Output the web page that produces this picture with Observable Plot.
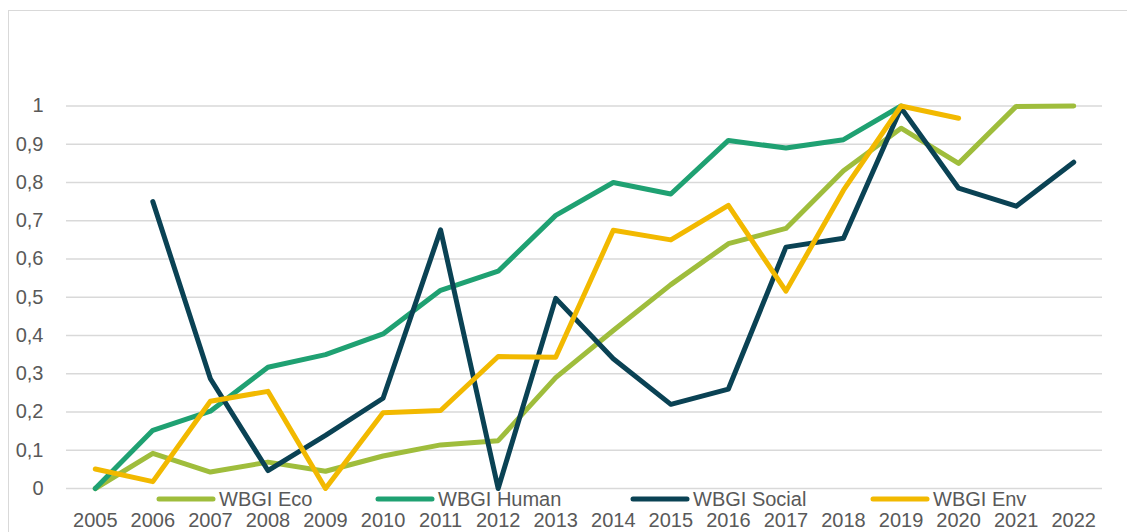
<!DOCTYPE html>
<html><head><meta charset="utf-8">
<script src="https://cdn.jsdelivr.net/npm/d3@7"></script>
<script src="https://cdn.jsdelivr.net/npm/@observablehq/plot@0.6"></script>
<style>
body{margin:0;background:#fff;overflow:hidden;font-family:"Liberation Sans",Arial,sans-serif;}
#wrap{position:relative;width:1127px;height:532px;overflow:hidden;}
#chart{position:absolute;left:0;top:0;}
#frame{position:absolute;left:8px;top:10px;width:1300px;height:700px;border:1.5px solid #d9d9d9;box-sizing:border-box;pointer-events:none;}
#legend{position:absolute;left:0;top:488px;width:1127px;height:22px;font-size:20px;color:#595959;white-space:nowrap;}
.item{position:absolute;top:0;height:22px;display:flex;align-items:center;}
.item svg{margin-right:3px;}
</style></head>
<body>
<div id="wrap"><div id="chart"></div><div id="frame"></div><div id="legend"></div></div>
<script>
const years = ["2005","2006","2007","2008","2009","2010","2011","2012","2013","2014","2015","2016","2017","2018","2019","2020","2021","2022"];
const seriesNames = ["WBGI Eco","WBGI Human","WBGI Social","WBGI Env"];
const seriesColors = ["#9fbd3c","#1fa172","#0a4254","#f2b900"];
const eco    = [0,0.092,0.043,0.069,0.045,0.085,0.114,0.125,0.29,0.413,0.533,0.64,0.68,0.831,0.942,0.85,0.999,1.0];
const human  = [0,0.152,0.202,0.317,0.35,0.404,0.518,0.568,0.714,0.80,0.77,0.91,0.89,0.912,1.0,null,null,null];
const social = [null,0.75,0.287,0.047,0.139,0.236,0.676,0,0.497,0.339,0.22,0.26,0.631,0.654,0.995,0.785,0.738,0.853];
const env    = [0.051,0.018,0.228,0.254,0,0.198,0.204,0.345,0.343,0.675,0.65,0.74,0.516,0.78,1.0,0.968,null,null];
const yTicks = [0,0.1,0.2,0.3,0.4,0.5,0.6,0.7,0.8,0.9,1];

// legend layout (pixel offsets of each legend entry)
const legendLefts = [156, 375, 630, 870];

const allSeries = [eco, human, social, env];
const rows = (vals) => years.map((y,i) => ({year:y, value:vals[i]}));

const fmt = d => d === 0 ? "0" : d === 1 ? "1" : d.toFixed(1).replace(".", ",");

const plot = Plot.plot({
  width: 1127,
  height: 532,
  marginLeft: 66,
  marginRight: 25,
  marginTop: 105.5,
  marginBottom: 44,
  style: {background: "none", fontFamily: "'Liberation Sans', Arial, sans-serif", fontSize: "20px", color: "#595959"},
  x: {type: "point", domain: years, padding: 0.5, round: false},
  y: {domain: [0, 1]},
  marks: [
    Plot.gridY(yTicks, {stroke: "#d9d9d9", strokeOpacity: 1, strokeWidth: 1.5}),
    Plot.axisY(yTicks, {tickSize: 0, tickPadding: 23, tickFormat: fmt, label: null}),
    Plot.axisX({tickSize: 0, tickPadding: 24, label: null}),
    ...allSeries.map((vals, k) => Plot.line(rows(vals), {
      x: "year", y: "value", stroke: seriesColors[k], strokeWidth: 5,
      strokeLinejoin: "round", strokeLinecap: "round"
    }))
  ]
});
document.getElementById("chart").appendChild(plot);

const legend = d3.select("#legend");
seriesNames.forEach((name, k) => {
  const it = legend.append("div").attr("class", "item").style("left", legendLefts[k] + "px");
  const s = it.append("svg").attr("width", 60).attr("height", 10);
  s.append("line").attr("x1", 3).attr("x2", 57).attr("y1", 5).attr("y2", 5)
    .attr("stroke", seriesColors[k]).attr("stroke-width", 5).attr("stroke-linecap", "round");
  it.append("span").text(name);
});
</script>
</body></html>
